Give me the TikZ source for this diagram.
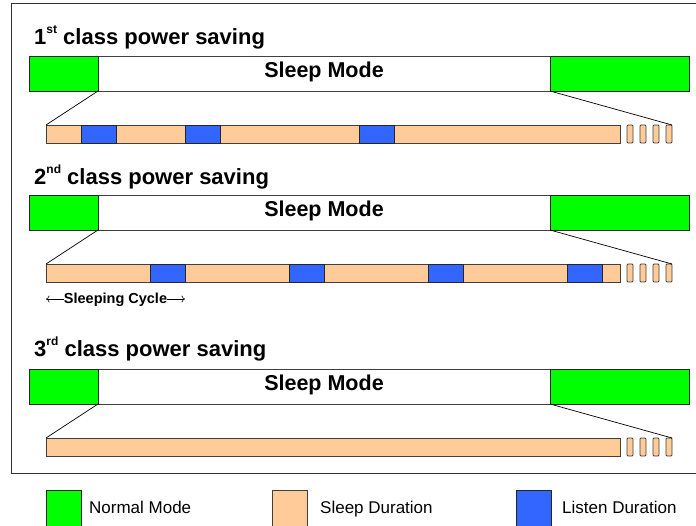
\documentclass[tikz,border=0pt]{standalone}
\usepackage{fontspec}
\setmainfont{Liberation Sans}
\usetikzlibrary{arrows.meta}
\definecolor{ngreen}{RGB}{0,255,0}
\definecolor{sorange}{RGB}{255,204,153}
\definecolor{lblue}{RGB}{51,102,255}
% style, name, x, y (top-left), width, height
\newcommand\rbox[6]{\node[#1, anchor=north west, minimum width=#5pt, minimum height=#6pt] (#2) at (#3,#4) {};}
\newcommand\supr[1]{\raisebox{11pt}{\fontsize{12}{12}\selectfont #1}}
\tikzset{
 box/.style={inner sep=0pt, outer sep=0pt, line width=0.9pt, draw=black!85},
 normal/.style={box, fill=ngreen},
 sleepd/.style={box, fill=sorange, draw=black!75},
 listen/.style={box, fill=lblue},
 bar/.style={box, fill=white, draw=black!75},
 tiny/.style={sleepd, rounded corners=1pt},
 zoomline/.style={line width=0.7pt, draw=black},
 title/.style={font=\fontsize{22}{26}\selectfont\bfseries, anchor=base west, inner sep=0pt},
 modetxt/.style={font=\fontsize{21.5}{26}\selectfont\bfseries, anchor=base, inner sep=0pt},
 legtxt/.style={font=\fontsize{17}{20}\selectfont, anchor=base west, inner sep=0pt},
 cyctxt/.style={font=\fontsize{14.5}{16}\selectfont\bfseries, anchor=base, inner sep=0pt},
 cycarrow/.style={-{To[length=3.5pt,width=7pt]}, line width=0.6pt},
}
\begin{document}
\begin{tikzpicture}[x=1pt,y=-1pt]
\useasboundingbox (0,0) rectangle (696,526);
\fill[white] (0,0) rectangle (696,526);
\draw[line width=1pt, black!80] (696,4) -- (11,4) -- (11,473) -- (696,473);

% ---------- Row 1 ----------
\node[title] (t1) at (34,45) {1\supr{st} class power saving};
\rbox{bar}{b1}{98}{56}{452}{35}
\rbox{normal}{g1l}{29}{56}{69}{35}
\rbox{normal}{g1r}{550}{56}{139}{35}
\node[modetxt] (m1) at (324,77.5) {Sleep Mode};
\rbox{sleepd}{s1}{46}{125}{574}{18}
\rbox{listen}{l1a}{81}{125}{35}{18}
\rbox{listen}{l1b}{185}{125}{35}{18}
\rbox{listen}{l1c}{359}{125}{35}{18}
\foreach \n/\x in {a/627,b/640,c/653,d/666} {\rbox{tiny}{d1\n}{\x}{125}{6}{18}}
\draw[zoomline] (g1l.south east) -- (s1.north west);
\draw[zoomline] (g1r.south west) -- (d1d.north east);

% ---------- Row 2 ----------
\node[title] (t2) at (34,185) {2\supr{nd} class power saving};
\rbox{bar}{b2}{98}{195}{452}{35}
\rbox{normal}{g2l}{29}{195}{69}{35}
\rbox{normal}{g2r}{550}{195}{139}{35}
\node[modetxt] (m2) at (324,216.5) {Sleep Mode};
\rbox{sleepd}{s2}{46}{264}{574}{18}
\rbox{listen}{l2a}{150}{264}{35}{18}
\rbox{listen}{l2b}{289}{264}{35}{18}
\rbox{listen}{l2c}{428}{264}{35}{18}
\rbox{listen}{l2d}{567}{264}{35}{18}
\foreach \n/\x in {a/627,b/640,c/653,d/666} {\rbox{tiny}{d2\n}{\x}{264}{6}{18}}
\draw[zoomline] (g2l.south east) -- (s2.north west);
\draw[zoomline] (g2r.south west) -- (d2d.north east);

\node[cyctxt] (sc) at (115.5,304) {Sleeping Cycle};
\coordinate (scl) at (46,299);
\coordinate (scr) at (185,299);
\draw[cycarrow] (sc.west |- scl) -- (scl);
\draw[cycarrow] (sc.east |- scr) -- (scr);

% ---------- Row 3 ----------
\node[title] (t3) at (34,357) {3\supr{rd} class power saving};
\rbox{bar}{b3}{98}{369}{452}{35}
\rbox{normal}{g3l}{29}{369}{69}{35}
\rbox{normal}{g3r}{550}{369}{139}{35}
\node[modetxt] (m3) at (324,390.5) {Sleep Mode};
\rbox{sleepd}{s3}{46}{438}{574}{18}
\foreach \n/\x in {a/627,b/640,c/653,d/666} {\rbox{tiny}{d3\n}{\x}{438}{6}{18}}
\draw[zoomline] (g3l.south east) -- (s3.north west);
\draw[zoomline] (g3r.south west) -- (d3d.north east);

% ---------- Legend ----------
\rbox{normal}{lg}{46}{490}{35}{37}
\node[legtxt] (lgt) at (89,513.5) {Normal Mode};
\rbox{sleepd}{ls}{272}{490}{35}{37}
\node[legtxt] (lst) at (320,513.5) {Sleep Duration};
\rbox{listen}{ll}{516}{490}{35}{37}
\node[legtxt] (llt) at (562,513.5) {Listen Duration};
\end{tikzpicture}
\end{document}
